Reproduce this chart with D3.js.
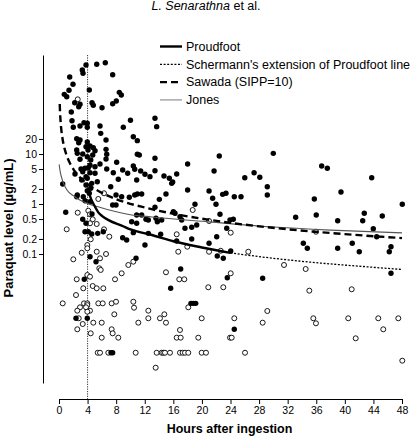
<!DOCTYPE html>
<html><head><meta charset="utf-8">
<script src="https://cdn.jsdelivr.net/npm/d3@7"></script>
<style>body{margin:0;background:#fff}svg{display:block;font-family:"Liberation Sans",Arial,sans-serif}</style>
</head><body><svg id="c" width="412" height="437"></svg>
<script>
const xTicks = [0,4,8,12,16,20,24,28,32,36,40,44,48];
const yTicks = [0.1,0.2,0.5,1,2,5,10,20];
const yTickLabels = ["0.1","0.2","0.5","1","2","5","10","20"];
const refHour = 4;
const legendLabels = ["Proudfoot","Schermann's extension of Proudfoot line","Sawada (SIPP=10)","Jones"];

// [hours, paraquat level µg/mL]
const filledPoints = [
[3.78,603],[5.28,622],[6.48,670],[3.26,479],[3.36,411],[7.51,385],[1.50,347],[1.96,248],[1.40,188],[4.24,191],[0.74,156],[1.08,140],[2.20,106],[2.94,98.6],[2.76,88.3],[4.62,106],[4.80,94.2],[6.02,84.3],[8.44,171],[8.72,151],[8.02,115],[7.51,101],[1.72,69.2],[10.0,47.2],[1.82,46.3],[2.94,36.3],[3.50,42.3],[3.96,41.1],[3.96,34.2],[2.00,34.2],[5.74,36.3],[9.0,34.2],[5.84,25.9],[10.4,22.2],[10.96,18.5],[6.58,19.1],[2.48,20.2],[2.94,19.1],[2.76,16.8],[3.96,17.4],[4.34,14.5],[4.80,13.4],[3.78,14.0],[4.06,12.0],[5.04,11.6],[2.48,12.0],[2.56,10.3],[3.32,10],[6.58,12.4],[6.68,9.86],[2.94,7.83],[3.96,8.83],[4.72,9.55],[4.44,7.59],[5.74,6.31],[6.58,7.94],[8.07,6.82],[10.96,9.86],[3.08,5.01],[3.64,5.18],[4.10,5.32],[4.34,5.94],[5.04,5.57],[6.68,5.01],[8.91,4.79],[10.4,5.75],[10.6,4.94],[9.61,4.11],[3.78,3.52],
[3.32,4.43],[4.34,4.23],[5.04,4.11],[2.24,3.98],[3.18,3.02],[3.96,3.27],[5.36,2.79],[4.58,2.59],[3.78,2.40],[7.6,4.23],[8.3,3.12],[7.24,2.22],[10.87,3.02],[0.52,2.51],[4.44,2.06],[3.96,1.85],[4.24,1.64],[2.56,1.51],[2.48,1.40],[3.40,1.40],[7.98,1.51],[8.77,1.40],[9.84,1.36],[10.6,1.51],[3.64,1.16],[4.34,1.11],[7.51,0.955],[7.98,0.955],[0.94,0.682],[4.62,0.631],[3.32,0.494],[3.78,0.411],[3.64,0.279],[4.10,0.279],[4.58,0.251],[5.42,0.259],[6.2,0.279],[8.91,0.212],[9.47,0.191],[4.34,0.0883],[5.18,0.0702],[10.78,0.082],[3.54,0.0312],
[2.38,0.00518],[3.96,0.00518],[7.28,0.00106],[7.51,0.00106],
[13.43,51.8],[13.67,35.2],[11.24,9.55],[13.43,8.20],[22.43,9.12],[11.43,4.57],[12.03,3.93],[12.73,3.52],[13.43,4.63],[14.69,3.63],[15.44,3.27],[16.47,3.98],[18.0,6.31],[21.7,4.57],[26.0,3.36],[27.3,4.23],[28.1,3.42],
[15.77,2.59],[15.91,2.75],[29.15,2.22],[10.96,1.58],[11.57,1.58],[14.97,1.58],[18.0,1.91],[21.0,1.82],[21.5,1.30],[22.9,1.56],[23.37,1.64],[24.53,1.40],[25.47,1.40],[29.15,1.51],[14.04,1.24],[19.03,0.986],[21.97,0.986],[22.53,0.622],[10.87,0.603],[11.57,0.603],[12.17,0.494],[12.5,0.479],[13.43,0.859],[13.57,0.518],[13.76,0.443],[14.37,0.479],[16.0,0.702],[16.23,0.652],[16.93,0.557],[17.17,0.479],[17.63,0.327],[18.57,0.342],[19.27,0.380],[10.17,0.443],[10.87,0.411],[23.93,0.479],[24.39,0.494],[23.47,0.327],[10.4,0.267],[12.5,0.259],[14.23,0.248],[16.47,0.182],[18.57,0.20],[21.0,0.164],[22.07,0.222],[12.03,0.151],[24.03,0.115],[22.15,0.0912],[22.99,0.082],[17.03,0.0501],[23.55,0.0336],[28.5,0.0327],[15.63,0.0206],
[18.47,0.0103],[18.79,0.0103],[19.13,0.0103],[24.53,0.00312],
[29.99,10.3],[36.76,5.75],[37.55,5.18],[43.76,3.36],
[39.46,1.74],[35.73,1.26],[48.04,0.986],[33.12,0.542],[36.0,0.603],[39.0,0.463],[42.72,0.652],[42.5,0.463],[45.24,0.575],[43.98,0.321],[44.46,0.222],[34.19,0.164],[34.75,0.130],[39.0,0.130],[41.04,0.164],[42.02,0.111],[46.46,0.140],[46.22,0.111],[46.46,0.0411]
];

const openPoints = [
[2.62,124],[5.5,1.26],[6.3,1.64],[2.62,0.67],[4.10,0.734],[4.34,0.622],[4.72,0.494],[4.34,0.411],[5.28,0.398],[6.3,0.312],[1.08,0.312],[7.04,0.222],[4.44,0.197],[3.96,0.151],[3.96,0.130],[3.18,0.106],[5.28,0.111],[6.58,0.1],[2.0,0.0783],[5.74,0.082],[5.64,0.0518],[5.84,0.048],[9.7,0.0603],[8.77,0.0411],[7.84,0.0312],[2.48,0.0312],[3.96,0.038],[4.34,0.0352],[3.40,0.0206],[4.72,0.0229],[5.28,0.0206],[6.2,0.0206],[2.38,0.0151],
[0.52,0.0103],[3.5,0.0103],[3.96,0.0103],[3.96,0.0095],[5.5,0.0103],[6.12,0.0103],[7.37,0.0103],[7.98,0.0111],[10.4,0.0111],[10.5,0.00843],[2.94,0.00859],[2.56,0.00735],[3.78,0.00859],[4.34,0.00735],[3.96,0.00702],[2.76,0.00518],[4.80,0.00423],[5.98,0.00423],[3.32,0.00398],[2.56,0.00312],[7.74,0.00622],[11.1,0.00423],[4.44,0.00259],[5.98,0.00212],[7.37,0.00312],[7.51,0.00259],[8.3,0.00212],[5.42,0.00106],[5.74,0.00106],[6.9,0.00106],[10.73,0.00106],
[18.71,0.759],[16.47,0.248],[21.0,0.457],[24.03,0.267],[16.69,0.111],[17.95,0.140],[21.0,0.111],[22.63,0.116],[26.49,0.111],[10.4,0.0702],[14.97,0.0431],[16.83,0.0312],[17.53,0.0312],[24.03,0.0411],[20.89,0.0216],[22.99,0.0216],
[12.5,0.00735],[12.5,0.00518],[14.13,0.00518],[14.74,0.00622],[14.97,0.00423],[16.93,0.00302],[16.47,0.00212],[17.03,0.00212],[18.09,0.00859],[19.97,0.00518],[19.49,0.00212],[23.93,0.00212],[24.17,0.00212],[24.53,0.00518],[28.5,0.00423],[29.15,0.00724],
[13.67,0.00106],[14.37,0.00106],[14.6,0.00106],[14.83,0.00106],[15.53,0.00106],[16.93,0.00106],[17.31,0.00106],[17.63,0.00106],[18.09,0.00106],[19.97,0.00106],[20.57,0.00106],[26.03,0.00106],[13.53,0.000532],
[35.96,0.279],[31.49,0.0603],[34.52,0.0501],[35.03,0.0185],[40.96,0.0197],
[35.59,0.00518],[35.96,0.00411],[40.48,0.00518],[41.52,0.00206],[44.68,0.00518],[45.38,0.00312],[47.48,0.00518],[48.04,0.000735]
];

const proudfootLine = [[4,2.0],[4.5,1.25],[5,0.9],[5.5,0.68],[6,0.58],[7,0.47],[8.77,0.37],[10,0.31],[13,0.24],[16,0.18],[20,0.135],[24,0.105]];
const schermannLine = [[24,0.105],[30,0.082],[36,0.067],[42,0.057],[48,0.049]];
const sawadaLine = [[0.1,100],[0.15,66.7],[0.2,50],[0.3,33.3],[0.5,20],[0.75,13.3],[1,10],[1.5,6.67],[2,5],[3,3.33],[4,2.5],[6,1.67],[8,1.25],[12,0.85],[16,0.64],[24,0.42],[32,0.3125],[40,0.25],[48,0.208]];
const jonesLine = [[0.02,6.2],[0.15,4.6],[0.5,2.9],[1.07,1.95],[2.2,1.4],[3.9,1.03],[5.7,0.86],[8.77,0.66],[10,0.61],[13,0.55],[21,0.44],[29.5,0.35],[38,0.3],[48,0.265]];

const svg = d3.select("#c");
const x = d3.scaleLinear().domain([0,48]).range([59,402]);
const y = d3.scaleLog().domain([Math.pow(10,-3.58), Math.pow(10,2.98)]).range([383,55]);

// title
const title = svg.append("text").attr("x",206).attr("y",10).attr("text-anchor","middle").attr("font-size",12.5);
title.append("tspan").attr("font-style","italic").text("L. Senarathna");
title.append("tspan").text(" et al.");

// axes
const gy = svg.append("g").attr("transform","translate(43,0)")
  .call(d3.axisLeft(y).tickValues(yTicks).tickFormat((d,i)=>yTickLabels[i]).tickSize(4).tickSizeOuter(0).tickPadding(2));
const gx = svg.append("g").attr("transform","translate(0,399)")
  .call(d3.axisBottom(x).tickValues(xTicks).tickFormat(d3.format("d")).tickSize(5).tickSizeOuter(0).tickPadding(3));
gy.attr("font-size",10.5);
gx.attr("font-size",10.5);
[gx,gy].forEach(g=>{g.attr("font-family","Liberation Sans, Arial, sans-serif");
  g.selectAll("path,line").attr("stroke","#000");});

// axis titles
svg.append("text").attr("transform","translate(13,228) rotate(-90)").attr("text-anchor","middle")
  .attr("font-size",13).attr("font-weight","bold").text("Paraquat level (µg/mL)");
svg.append("text").attr("x",229.5).attr("y",433).attr("text-anchor","middle")
  .attr("font-size",12.5).attr("font-weight","bold").text("Hours after ingestion");

// reference vertical line at 4 h
svg.append("line").attr("x1",x(refHour)).attr("x2",x(refHour)).attr("y1",55).attr("y2",399)
  .attr("stroke","#000").attr("stroke-width",0.8).attr("stroke-dasharray","1.2,1.2");

// points
svg.append("g").selectAll("circle").data(openPoints).join("circle")
  .attr("cx",d=>x(d[0])).attr("cy",d=>y(d[1])).attr("r",2.5)
  .attr("fill","#fff").attr("stroke","#000").attr("stroke-width",0.9);
svg.append("g").selectAll("circle").data(filledPoints).join("circle")
  .attr("cx",d=>x(d[0])).attr("cy",d=>y(d[1])).attr("r",2.7).attr("fill","#000");

// curves
const line = d3.line().x(d=>x(d[0])).y(d=>y(d[1])).curve(d3.curveMonotoneX);
const styles = [
  {data:jonesLine, stroke:"#555", w:1.1, dash:null},
  {data:schermannLine, stroke:"#000", w:1.3, dash:"2,1.6"},
  {data:sawadaLine, stroke:"#000", w:2.4, dash:"7,4"},
  {data:proudfootLine, stroke:"#000", w:2.4, dash:null}
];
styles.forEach(s=>{
  svg.append("path").attr("d",line(s.data)).attr("fill","none").attr("stroke",s.stroke)
    .attr("stroke-width",s.w).attr("stroke-dasharray",s.dash);
});

// legend
const legStyles = [
  {stroke:"#000", w:2.4, dash:null},
  {stroke:"#000", w:1.3, dash:"2,1.6"},
  {stroke:"#000", w:2.4, dash:"7,4"},
  {stroke:"#999", w:1.3, dash:null}
];
const leg = svg.append("g");
legendLabels.forEach((t,i)=>{
  const yy = 46.5 + i*17.8;
  leg.append("line").attr("x1",160).attr("x2",182).attr("y1",yy).attr("y2",yy)
    .attr("stroke",legStyles[i].stroke).attr("stroke-width",legStyles[i].w).attr("stroke-dasharray",legStyles[i].dash);
  leg.append("text").attr("x",186).attr("y",yy+4.3).attr("font-size",12.5).text(t);
});
</script></body></html>
